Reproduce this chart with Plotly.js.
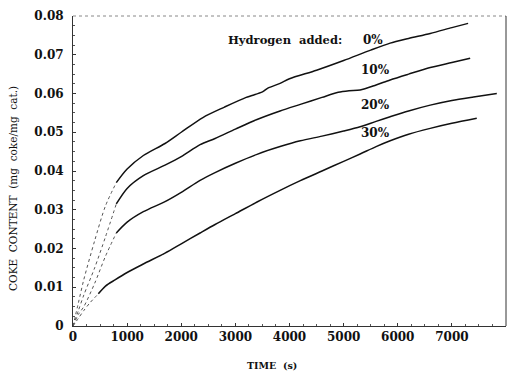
<!DOCTYPE html>
<html>
<head>
<meta charset="utf-8">
<script src="https://cdn.plot.ly/plotly-3.0.1.min.js"></script>
<style>
  html, body { margin: 0; padding: 0; background: #fff; }
  #chart { width: 515px; height: 371px; }
</style>
</head>
<body>
<div id="chart"></div>
<script>
// Coke content on catalyst vs. time for several hydrogen additions
const seriesNames = ["0%", "10%", "20%", "30%"];

const time0  = [0, 100, 200, 400, 600, 800, 1000, 1300, 1700, 2000, 2400, 2800, 3200, 3500, 3600, 3826, 4000, 4500, 5000, 5500, 5860, 6200, 6600, 7000, 7300];
const coke0  = [0, 0.006, 0.012, 0.022, 0.031, 0.037, 0.0405, 0.0440, 0.0471, 0.0500, 0.0538, 0.0565, 0.0590, 0.0604, 0.0614, 0.0626, 0.0638, 0.0660, 0.0685, 0.0712, 0.0730, 0.0742, 0.0755, 0.0770, 0.0781];

const time10 = [0, 100, 200, 400, 600, 800, 1000, 1300, 1700, 2000, 2348, 2625, 3000, 3400, 3826, 4200, 4600, 4900, 5100, 5305, 5600, 5860, 6200, 6600, 7000, 7338];
const coke10 = [0, 0.004, 0.008, 0.015, 0.023, 0.0315, 0.0355, 0.0388, 0.0415, 0.0437, 0.0468, 0.0484, 0.0508, 0.0533, 0.0555, 0.0572, 0.0590, 0.0603, 0.0607, 0.0609, 0.0622, 0.0635, 0.0650, 0.0667, 0.0680, 0.0691];

const time20 = [0, 100, 200, 400, 600, 800, 1000, 1300, 1700, 2000, 2348, 2625, 3000, 3400, 3826, 4200, 4600, 5000, 5305, 5600, 5860, 6200, 6600, 7000, 7400, 7830];
const coke20 = [0, 0.003, 0.005, 0.011, 0.018, 0.024, 0.0268, 0.0295, 0.0321, 0.0345, 0.0376, 0.0396, 0.0420, 0.0443, 0.0463, 0.0478, 0.0490, 0.0503, 0.0514, 0.0528, 0.0540, 0.0555, 0.0570, 0.0582, 0.0591, 0.0600];

const time30 = [0, 100, 200, 314, 468, 600, 776, 1000, 1300, 1700, 2000, 2348, 2625, 3000, 3400, 3826, 4200, 4600, 5000, 5305, 5600, 5860, 6200, 6600, 7000, 7460];
const coke30 = [0, 0.002, 0.004, 0.006, 0.0083, 0.0103, 0.0119, 0.0138, 0.0160, 0.0188, 0.0212, 0.0240, 0.0262, 0.0290, 0.0320, 0.0350, 0.0375, 0.0400, 0.0425, 0.0444, 0.0463, 0.0478, 0.0495, 0.0510, 0.0523, 0.0536];

const xTicks = [0, 1000, 2000, 3000, 4000, 5000, 6000, 7000, 8000];
const yTicks = [0, 0.01, 0.02, 0.03, 0.04, 0.05, 0.06, 0.07, 0.08];
const yTickText = ["0", "0.01", "0.02", "0.03", "0.04", "0.05", "0.06", "0.07", "0.08"];

// the fast early rise is sampled sparsely and shows as a dotted segment
const dottedUntil = [800, 900, 800, 470];
// label positions for each curve
const labelTime = [5545, 5582, 5582, 5582];
const labelCoke = [0.0738, 0.0661, 0.0570, 0.0498];

const allTimes = [time0, time10, time20, time30];
const allCoke = [coke0, coke10, coke20, coke30];

const serif = "DejaVu Serif, serif";
const traces = [];
allTimes.forEach((t, i) => {
  const c = allCoke[i];
  let k = 0;
  while (k < t.length - 1 && t[k + 1] <= dottedUntil[i]) k++;
  traces.push({
    x: t.slice(0, k + 1), y: c.slice(0, k + 1), mode: "lines", type: "scatter",
    line: { color: "#555", width: 1, dash: "dot", shape: "spline", smoothing: 0.8 },
    hoverinfo: "skip", showlegend: false
  });
  traces.push({
    x: t.slice(k), y: c.slice(k), mode: "lines", type: "scatter", name: seriesNames[i],
    line: { color: "#111", width: 1.5, shape: "spline", smoothing: 0.8 }, showlegend: false
  });
});

const annotations = seriesNames.map((n, i) => ({
  x: labelTime[i], y: labelCoke[i], xref: "x", yref: "y", text: "<b>" + n + "</b>", showarrow: false,
  font: { family: serif, size: 12, color: "#111" }
}));
annotations.push({
  x: 3919, y: 0.0738, xref: "x", yref: "y", text: "<b>Hydrogen  added:</b>", showarrow: false,
  font: { family: serif, size: 11.5, color: "#111" }
});

// axis titles, positioned in pixels and converted to paper coordinates
const L = 73, R = 9, T = 16, B = 45, W = 515, H = 371;
const px = x => (x - L) / (W - L - R);
const py = y => (H - B - y) / (H - T - B);
annotations.push({
  x: px(272), y: py(365), xref: "paper", yref: "paper", xanchor: "center", yanchor: "middle",
  text: "<b>TIME  (s)</b>", showarrow: false,
  font: { family: serif, size: 9.5, color: "#111" }
});
annotations.push({
  x: px(13), y: py(189), xref: "paper", yref: "paper", xanchor: "center", yanchor: "middle",
  text: "COKE  CONTENT  (mg  coke/mg  cat.)", showarrow: false, textangle: -90,
  font: { family: serif, size: 10.5, color: "#111" }
});

const layout = {
  width: W, height: H,
  margin: { l: L, r: R, t: T, b: B },
  paper_bgcolor: "#fff", plot_bgcolor: "#fff",
  showlegend: false,
  font: { family: serif, color: "#111" },
  xaxis: {
    range: [0, 8000], tickvals: xTicks, ticktext: xTicks.map(String),
    showgrid: false, zeroline: false,
    showline: true, linecolor: "#333", linewidth: 1,
    ticks: "inside", ticklen: 3, tickcolor: "#333",
    minor: { ticks: "inside", ticklen: 2, dtick: 250, tickcolor: "#555" },
    tickfont: { family: serif, size: 12, color: "#111", weight: "bold" }
  },
  yaxis: {
    range: [0, 0.08], tickvals: yTicks, ticktext: yTickText,
    showgrid: false, zeroline: false,
    showline: true, linecolor: "#333", linewidth: 1,
    ticks: "inside", ticklen: 3, tickcolor: "#333",
    minor: { ticks: "inside", ticklen: 2, dtick: 0.0025, tickcolor: "#555" },
    ticklabelstandoff: 6,
    tickfont: { family: serif, size: 12, color: "#111", weight: "bold" }
  },
  shapes: [
    { type: "line", xref: "paper", yref: "paper", x0: 0, x1: 1, y0: 1, y1: 1, line: { color: "#888", width: 1, dash: "dot" } },
    { type: "line", xref: "paper", yref: "paper", x0: 1, x1: 1, y0: 0, y1: 1, line: { color: "#333", width: 1 } }
  ],
  annotations: annotations
};

Plotly.newPlot("chart", traces, layout, { displayModeBar: false, staticPlot: true });
</script>
</body>
</html>
